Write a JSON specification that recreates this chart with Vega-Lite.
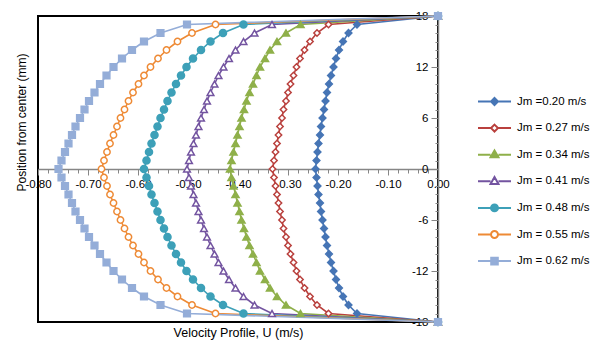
{
  "$schema": "https://vega.github.io/schema/vega-lite/v6.json",
  "width": 400,
  "height": 306,
  "autosize": "none",
  "padding": {"left": 38, "top": 16, "right": 159, "bottom": 21},
  "background": "white",
  "config": {
    "view": {"stroke": "black", "strokeWidth": 2},
    "font": "Liberation Sans",
    "axis": {"grid": false, "domainColor": "#868686", "domainWidth": 1.5, "tickColor": "#868686", "tickWidth": 1, "labelColor": "black", "labelFont": "Liberation Sans", "labelFontSize": 11.5, "titleFont": "Liberation Sans", "titleFontWeight": "normal", "titleColor": "black", "titleFontSize": 12},
    "legend": {"title": null, "orient": "none", "legendX": 439, "legendY": 68, "padding": 0, "rowPadding": 1.6, "labelFont": "Liberation Sans", "labelFontSize": 11.5, "labelColor": "black", "labelOffset": 5, "symbolSize": 1089, "symbolStrokeWidth": 2, "symbolOpacity": 1}
  },
  "data": {"values": [
{"s":"Jm =0.20 m/s","y":18,"u":0},{"s":"Jm =0.20 m/s","y":17,"u":-0.162},{"s":"Jm =0.20 m/s","y":16,"u":-0.179},{"s":"Jm =0.20 m/s","y":15,"u":-0.190},{"s":"Jm =0.20 m/s","y":14,"u":-0.198},{"s":"Jm =0.20 m/s","y":13,"u":-0.204},{"s":"Jm =0.20 m/s","y":12,"u":-0.209},{"s":"Jm =0.20 m/s","y":11,"u":-0.214},{"s":"Jm =0.20 m/s","y":10,"u":-0.218},{"s":"Jm =0.20 m/s","y":9,"u":-0.222},{"s":"Jm =0.20 m/s","y":8,"u":-0.225},{"s":"Jm =0.20 m/s","y":7,"u":-0.228},{"s":"Jm =0.20 m/s","y":6,"u":-0.231},{"s":"Jm =0.20 m/s","y":5,"u":-0.234},{"s":"Jm =0.20 m/s","y":4,"u":-0.236},{"s":"Jm =0.20 m/s","y":3,"u":-0.239},{"s":"Jm =0.20 m/s","y":2,"u":-0.241},{"s":"Jm =0.20 m/s","y":1,"u":-0.243},{"s":"Jm =0.20 m/s","y":0,"u":-0.245},{"s":"Jm =0.20 m/s","y":-1,"u":-0.243},{"s":"Jm =0.20 m/s","y":-2,"u":-0.241},{"s":"Jm =0.20 m/s","y":-3,"u":-0.239},{"s":"Jm =0.20 m/s","y":-4,"u":-0.236},{"s":"Jm =0.20 m/s","y":-5,"u":-0.234},{"s":"Jm =0.20 m/s","y":-6,"u":-0.231},{"s":"Jm =0.20 m/s","y":-7,"u":-0.228},{"s":"Jm =0.20 m/s","y":-8,"u":-0.225},{"s":"Jm =0.20 m/s","y":-9,"u":-0.222},{"s":"Jm =0.20 m/s","y":-10,"u":-0.218},{"s":"Jm =0.20 m/s","y":-11,"u":-0.214},{"s":"Jm =0.20 m/s","y":-12,"u":-0.209},{"s":"Jm =0.20 m/s","y":-13,"u":-0.204},{"s":"Jm =0.20 m/s","y":-14,"u":-0.198},{"s":"Jm =0.20 m/s","y":-15,"u":-0.190},{"s":"Jm =0.20 m/s","y":-16,"u":-0.179},{"s":"Jm =0.20 m/s","y":-17,"u":-0.162},{"s":"Jm =0.20 m/s","y":-18,"u":0},
{"s":"Jm = 0.27 m/s","y":18,"u":0},{"s":"Jm = 0.27 m/s","y":17,"u":-0.219},{"s":"Jm = 0.27 m/s","y":16,"u":-0.242},{"s":"Jm = 0.27 m/s","y":15,"u":-0.256},{"s":"Jm = 0.27 m/s","y":14,"u":-0.267},{"s":"Jm = 0.27 m/s","y":13,"u":-0.276},{"s":"Jm = 0.27 m/s","y":12,"u":-0.283},{"s":"Jm = 0.27 m/s","y":11,"u":-0.289},{"s":"Jm = 0.27 m/s","y":10,"u":-0.295},{"s":"Jm = 0.27 m/s","y":9,"u":-0.300},{"s":"Jm = 0.27 m/s","y":8,"u":-0.304},{"s":"Jm = 0.27 m/s","y":7,"u":-0.309},{"s":"Jm = 0.27 m/s","y":6,"u":-0.312},{"s":"Jm = 0.27 m/s","y":5,"u":-0.316},{"s":"Jm = 0.27 m/s","y":4,"u":-0.319},{"s":"Jm = 0.27 m/s","y":3,"u":-0.322},{"s":"Jm = 0.27 m/s","y":2,"u":-0.325},{"s":"Jm = 0.27 m/s","y":1,"u":-0.328},{"s":"Jm = 0.27 m/s","y":0,"u":-0.331},{"s":"Jm = 0.27 m/s","y":-1,"u":-0.328},{"s":"Jm = 0.27 m/s","y":-2,"u":-0.325},{"s":"Jm = 0.27 m/s","y":-3,"u":-0.322},{"s":"Jm = 0.27 m/s","y":-4,"u":-0.319},{"s":"Jm = 0.27 m/s","y":-5,"u":-0.316},{"s":"Jm = 0.27 m/s","y":-6,"u":-0.312},{"s":"Jm = 0.27 m/s","y":-7,"u":-0.309},{"s":"Jm = 0.27 m/s","y":-8,"u":-0.304},{"s":"Jm = 0.27 m/s","y":-9,"u":-0.300},{"s":"Jm = 0.27 m/s","y":-10,"u":-0.295},{"s":"Jm = 0.27 m/s","y":-11,"u":-0.289},{"s":"Jm = 0.27 m/s","y":-12,"u":-0.283},{"s":"Jm = 0.27 m/s","y":-13,"u":-0.276},{"s":"Jm = 0.27 m/s","y":-14,"u":-0.267},{"s":"Jm = 0.27 m/s","y":-15,"u":-0.256},{"s":"Jm = 0.27 m/s","y":-16,"u":-0.242},{"s":"Jm = 0.27 m/s","y":-17,"u":-0.219},{"s":"Jm = 0.27 m/s","y":-18,"u":0},
{"s":"Jm = 0.34 m/s","y":18,"u":0},{"s":"Jm = 0.34 m/s","y":17,"u":-0.275},{"s":"Jm = 0.34 m/s","y":16,"u":-0.304},{"s":"Jm = 0.34 m/s","y":15,"u":-0.322},{"s":"Jm = 0.34 m/s","y":14,"u":-0.336},{"s":"Jm = 0.34 m/s","y":13,"u":-0.346},{"s":"Jm = 0.34 m/s","y":12,"u":-0.356},{"s":"Jm = 0.34 m/s","y":11,"u":-0.363},{"s":"Jm = 0.34 m/s","y":10,"u":-0.370},{"s":"Jm = 0.34 m/s","y":9,"u":-0.377},{"s":"Jm = 0.34 m/s","y":8,"u":-0.383},{"s":"Jm = 0.34 m/s","y":7,"u":-0.388},{"s":"Jm = 0.34 m/s","y":6,"u":-0.393},{"s":"Jm = 0.34 m/s","y":5,"u":-0.397},{"s":"Jm = 0.34 m/s","y":4,"u":-0.401},{"s":"Jm = 0.34 m/s","y":3,"u":-0.405},{"s":"Jm = 0.34 m/s","y":2,"u":-0.409},{"s":"Jm = 0.34 m/s","y":1,"u":-0.413},{"s":"Jm = 0.34 m/s","y":0,"u":-0.416},{"s":"Jm = 0.34 m/s","y":-1,"u":-0.413},{"s":"Jm = 0.34 m/s","y":-2,"u":-0.409},{"s":"Jm = 0.34 m/s","y":-3,"u":-0.405},{"s":"Jm = 0.34 m/s","y":-4,"u":-0.401},{"s":"Jm = 0.34 m/s","y":-5,"u":-0.397},{"s":"Jm = 0.34 m/s","y":-6,"u":-0.393},{"s":"Jm = 0.34 m/s","y":-7,"u":-0.388},{"s":"Jm = 0.34 m/s","y":-8,"u":-0.383},{"s":"Jm = 0.34 m/s","y":-9,"u":-0.377},{"s":"Jm = 0.34 m/s","y":-10,"u":-0.370},{"s":"Jm = 0.34 m/s","y":-11,"u":-0.363},{"s":"Jm = 0.34 m/s","y":-12,"u":-0.356},{"s":"Jm = 0.34 m/s","y":-13,"u":-0.346},{"s":"Jm = 0.34 m/s","y":-14,"u":-0.336},{"s":"Jm = 0.34 m/s","y":-15,"u":-0.322},{"s":"Jm = 0.34 m/s","y":-16,"u":-0.304},{"s":"Jm = 0.34 m/s","y":-17,"u":-0.275},{"s":"Jm = 0.34 m/s","y":-18,"u":0},
{"s":"Jm = 0.41 m/s","y":18,"u":0},{"s":"Jm = 0.41 m/s","y":17,"u":-0.332},{"s":"Jm = 0.41 m/s","y":16,"u":-0.367},{"s":"Jm = 0.41 m/s","y":15,"u":-0.389},{"s":"Jm = 0.41 m/s","y":14,"u":-0.405},{"s":"Jm = 0.41 m/s","y":13,"u":-0.418},{"s":"Jm = 0.41 m/s","y":12,"u":-0.429},{"s":"Jm = 0.41 m/s","y":11,"u":-0.439},{"s":"Jm = 0.41 m/s","y":10,"u":-0.447},{"s":"Jm = 0.41 m/s","y":9,"u":-0.455},{"s":"Jm = 0.41 m/s","y":8,"u":-0.462},{"s":"Jm = 0.41 m/s","y":7,"u":-0.468},{"s":"Jm = 0.41 m/s","y":6,"u":-0.474},{"s":"Jm = 0.41 m/s","y":5,"u":-0.479},{"s":"Jm = 0.41 m/s","y":4,"u":-0.484},{"s":"Jm = 0.41 m/s","y":3,"u":-0.489},{"s":"Jm = 0.41 m/s","y":2,"u":-0.494},{"s":"Jm = 0.41 m/s","y":1,"u":-0.498},{"s":"Jm = 0.41 m/s","y":0,"u":-0.502},{"s":"Jm = 0.41 m/s","y":-1,"u":-0.498},{"s":"Jm = 0.41 m/s","y":-2,"u":-0.494},{"s":"Jm = 0.41 m/s","y":-3,"u":-0.489},{"s":"Jm = 0.41 m/s","y":-4,"u":-0.484},{"s":"Jm = 0.41 m/s","y":-5,"u":-0.479},{"s":"Jm = 0.41 m/s","y":-6,"u":-0.474},{"s":"Jm = 0.41 m/s","y":-7,"u":-0.468},{"s":"Jm = 0.41 m/s","y":-8,"u":-0.462},{"s":"Jm = 0.41 m/s","y":-9,"u":-0.455},{"s":"Jm = 0.41 m/s","y":-10,"u":-0.447},{"s":"Jm = 0.41 m/s","y":-11,"u":-0.439},{"s":"Jm = 0.41 m/s","y":-12,"u":-0.429},{"s":"Jm = 0.41 m/s","y":-13,"u":-0.418},{"s":"Jm = 0.41 m/s","y":-14,"u":-0.405},{"s":"Jm = 0.41 m/s","y":-15,"u":-0.389},{"s":"Jm = 0.41 m/s","y":-16,"u":-0.367},{"s":"Jm = 0.41 m/s","y":-17,"u":-0.332},{"s":"Jm = 0.41 m/s","y":-18,"u":0},
{"s":"Jm = 0.48 m/s","y":18,"u":0},{"s":"Jm = 0.48 m/s","y":17,"u":-0.389},{"s":"Jm = 0.48 m/s","y":16,"u":-0.430},{"s":"Jm = 0.48 m/s","y":15,"u":-0.455},{"s":"Jm = 0.48 m/s","y":14,"u":-0.474},{"s":"Jm = 0.48 m/s","y":13,"u":-0.490},{"s":"Jm = 0.48 m/s","y":12,"u":-0.503},{"s":"Jm = 0.48 m/s","y":11,"u":-0.514},{"s":"Jm = 0.48 m/s","y":10,"u":-0.524},{"s":"Jm = 0.48 m/s","y":9,"u":-0.533},{"s":"Jm = 0.48 m/s","y":8,"u":-0.541},{"s":"Jm = 0.48 m/s","y":7,"u":-0.548},{"s":"Jm = 0.48 m/s","y":6,"u":-0.555},{"s":"Jm = 0.48 m/s","y":5,"u":-0.561},{"s":"Jm = 0.48 m/s","y":4,"u":-0.567},{"s":"Jm = 0.48 m/s","y":3,"u":-0.573},{"s":"Jm = 0.48 m/s","y":2,"u":-0.578},{"s":"Jm = 0.48 m/s","y":1,"u":-0.583},{"s":"Jm = 0.48 m/s","y":0,"u":-0.588},{"s":"Jm = 0.48 m/s","y":-1,"u":-0.583},{"s":"Jm = 0.48 m/s","y":-2,"u":-0.578},{"s":"Jm = 0.48 m/s","y":-3,"u":-0.573},{"s":"Jm = 0.48 m/s","y":-4,"u":-0.567},{"s":"Jm = 0.48 m/s","y":-5,"u":-0.561},{"s":"Jm = 0.48 m/s","y":-6,"u":-0.555},{"s":"Jm = 0.48 m/s","y":-7,"u":-0.548},{"s":"Jm = 0.48 m/s","y":-8,"u":-0.541},{"s":"Jm = 0.48 m/s","y":-9,"u":-0.533},{"s":"Jm = 0.48 m/s","y":-10,"u":-0.524},{"s":"Jm = 0.48 m/s","y":-11,"u":-0.514},{"s":"Jm = 0.48 m/s","y":-12,"u":-0.503},{"s":"Jm = 0.48 m/s","y":-13,"u":-0.490},{"s":"Jm = 0.48 m/s","y":-14,"u":-0.474},{"s":"Jm = 0.48 m/s","y":-15,"u":-0.455},{"s":"Jm = 0.48 m/s","y":-16,"u":-0.430},{"s":"Jm = 0.48 m/s","y":-17,"u":-0.389},{"s":"Jm = 0.48 m/s","y":-18,"u":0},
{"s":"Jm = 0.55 m/s","y":18,"u":0},{"s":"Jm = 0.55 m/s","y":17,"u":-0.445},{"s":"Jm = 0.55 m/s","y":16,"u":-0.492},{"s":"Jm = 0.55 m/s","y":15,"u":-0.521},{"s":"Jm = 0.55 m/s","y":14,"u":-0.543},{"s":"Jm = 0.55 m/s","y":13,"u":-0.560},{"s":"Jm = 0.55 m/s","y":12,"u":-0.575},{"s":"Jm = 0.55 m/s","y":11,"u":-0.588},{"s":"Jm = 0.55 m/s","y":10,"u":-0.599},{"s":"Jm = 0.55 m/s","y":9,"u":-0.610},{"s":"Jm = 0.55 m/s","y":8,"u":-0.619},{"s":"Jm = 0.55 m/s","y":7,"u":-0.627},{"s":"Jm = 0.55 m/s","y":6,"u":-0.635},{"s":"Jm = 0.55 m/s","y":5,"u":-0.642},{"s":"Jm = 0.55 m/s","y":4,"u":-0.649},{"s":"Jm = 0.55 m/s","y":3,"u":-0.656},{"s":"Jm = 0.55 m/s","y":2,"u":-0.662},{"s":"Jm = 0.55 m/s","y":1,"u":-0.668},{"s":"Jm = 0.55 m/s","y":0,"u":-0.673},{"s":"Jm = 0.55 m/s","y":-1,"u":-0.668},{"s":"Jm = 0.55 m/s","y":-2,"u":-0.662},{"s":"Jm = 0.55 m/s","y":-3,"u":-0.656},{"s":"Jm = 0.55 m/s","y":-4,"u":-0.649},{"s":"Jm = 0.55 m/s","y":-5,"u":-0.642},{"s":"Jm = 0.55 m/s","y":-6,"u":-0.635},{"s":"Jm = 0.55 m/s","y":-7,"u":-0.627},{"s":"Jm = 0.55 m/s","y":-8,"u":-0.619},{"s":"Jm = 0.55 m/s","y":-9,"u":-0.610},{"s":"Jm = 0.55 m/s","y":-10,"u":-0.599},{"s":"Jm = 0.55 m/s","y":-11,"u":-0.588},{"s":"Jm = 0.55 m/s","y":-12,"u":-0.575},{"s":"Jm = 0.55 m/s","y":-13,"u":-0.560},{"s":"Jm = 0.55 m/s","y":-14,"u":-0.543},{"s":"Jm = 0.55 m/s","y":-15,"u":-0.521},{"s":"Jm = 0.55 m/s","y":-16,"u":-0.492},{"s":"Jm = 0.55 m/s","y":-17,"u":-0.445},{"s":"Jm = 0.55 m/s","y":-18,"u":0},
{"s":"Jm = 0.62 m/s","y":18,"u":0},{"s":"Jm = 0.62 m/s","y":17,"u":-0.502},{"s":"Jm = 0.62 m/s","y":16,"u":-0.555},{"s":"Jm = 0.62 m/s","y":15,"u":-0.588},{"s":"Jm = 0.62 m/s","y":14,"u":-0.612},{"s":"Jm = 0.62 m/s","y":13,"u":-0.632},{"s":"Jm = 0.62 m/s","y":12,"u":-0.649},{"s":"Jm = 0.62 m/s","y":11,"u":-0.663},{"s":"Jm = 0.62 m/s","y":10,"u":-0.676},{"s":"Jm = 0.62 m/s","y":9,"u":-0.687},{"s":"Jm = 0.62 m/s","y":8,"u":-0.698},{"s":"Jm = 0.62 m/s","y":7,"u":-0.707},{"s":"Jm = 0.62 m/s","y":6,"u":-0.716},{"s":"Jm = 0.62 m/s","y":5,"u":-0.725},{"s":"Jm = 0.62 m/s","y":4,"u":-0.732},{"s":"Jm = 0.62 m/s","y":3,"u":-0.739},{"s":"Jm = 0.62 m/s","y":2,"u":-0.746},{"s":"Jm = 0.62 m/s","y":1,"u":-0.753},{"s":"Jm = 0.62 m/s","y":0,"u":-0.759},{"s":"Jm = 0.62 m/s","y":-1,"u":-0.753},{"s":"Jm = 0.62 m/s","y":-2,"u":-0.746},{"s":"Jm = 0.62 m/s","y":-3,"u":-0.739},{"s":"Jm = 0.62 m/s","y":-4,"u":-0.732},{"s":"Jm = 0.62 m/s","y":-5,"u":-0.725},{"s":"Jm = 0.62 m/s","y":-6,"u":-0.716},{"s":"Jm = 0.62 m/s","y":-7,"u":-0.707},{"s":"Jm = 0.62 m/s","y":-8,"u":-0.698},{"s":"Jm = 0.62 m/s","y":-9,"u":-0.687},{"s":"Jm = 0.62 m/s","y":-10,"u":-0.676},{"s":"Jm = 0.62 m/s","y":-11,"u":-0.663},{"s":"Jm = 0.62 m/s","y":-12,"u":-0.649},{"s":"Jm = 0.62 m/s","y":-13,"u":-0.632},{"s":"Jm = 0.62 m/s","y":-14,"u":-0.612},{"s":"Jm = 0.62 m/s","y":-15,"u":-0.588},{"s":"Jm = 0.62 m/s","y":-16,"u":-0.555},{"s":"Jm = 0.62 m/s","y":-17,"u":-0.502},{"s":"Jm = 0.62 m/s","y":-18,"u":0}
  ]},
  "encoding": {
    "x": {"field": "u", "type": "quantitative", "scale": {"domain": [-0.8, 0], "nice": false, "zero": false},
      "axis": {"orient": "bottom", "offset": -153, "title": "Velocity Profile, U (m/s)", "titleY": 157, "titleFontSize": 12.5,
        "values": [-0.8,-0.78,-0.76,-0.74,-0.72,-0.7,-0.68,-0.66,-0.64,-0.62,-0.6,-0.58,-0.56,-0.54,-0.52,-0.5,-0.48,-0.46,-0.44,-0.42,-0.4,-0.38,-0.36,-0.34,-0.32,-0.3,-0.28,-0.26,-0.24,-0.22,-0.2,-0.18,-0.16,-0.14,-0.12,-0.1,-0.08,-0.06,-0.04,-0.02,0],
        "labelExpr": "abs(round(datum.value*100)) % 10 == 0 ? replace(format(datum.value, '.2f'), '\u2212', '-') : ''",
        "labelOverlap": false, "labelFlush": false, "labelPadding": 3,
        "tickSize": {"condition": {"test": "abs(round(datum.value*100)) % 10 == 0", "value": 6}, "value": 4}}},
    "y": {"field": "y", "type": "quantitative", "scale": {"domain": [-18, 18], "nice": false},
      "axis": {"orient": "left", "offset": -400, "title": "Position from center (mm)", "titleX": -410, "titleY": 106, "titleAngle": -90,
        "values": [-18,-17,-16,-15,-14,-13,-12,-11,-10,-9,-8,-7,-6,-5,-4,-3,-2,-1,0,1,2,3,4,5,6,7,8,9,10,11,12,13,14,15,16,17,18],
        "labelExpr": "datum.value % 6 == 0 ? replace(format(datum.value, 'd'), '\u2212', '-') : ''",
        "labelOverlap": false, "labelFlush": false, "labelPadding": 3,
        "tickSize": {"condition": {"test": "datum.value % 6 == 0", "value": 7}, "value": 3}}},
    "color": {"field": "s", "type": "nominal",
      "scale": {"domain": ["Jm =0.20 m/s","Jm = 0.27 m/s","Jm = 0.34 m/s","Jm = 0.41 m/s","Jm = 0.48 m/s","Jm = 0.55 m/s","Jm = 0.62 m/s"],
        "range": ["#4675B5","#B9403D","#8FB04A","#7354A0","#3DA0B8","#EE8A35","#94ADD8"]}}
  },
  "layer": [
    {
      "mark": {"type": "line", "strokeWidth": 1.6},
      "encoding": {"order": {"field": "y", "type": "quantitative"}}
    },
    {
      "transform": [{"filter": {"field": "s", "equal": "Jm =0.20 m/s"}}],
      "mark": {"type": "point", "shape": "diamond", "filled": false, "size": 45, "strokeWidth": 1.5, "opacity": 1},
      "encoding": {"fill": {"field": "s", "type": "nominal"}}
    },
    {
      "transform": [{"filter": {"field": "s", "equal": "Jm = 0.27 m/s"}}],
      "mark": {"type": "point", "shape": "diamond", "filled": false, "size": 40, "strokeWidth": 1.5, "opacity": 1},
      "encoding": {"fill": {"field": "s", "type": "nominal"}}
    },
    {
      "transform": [{"filter": {"field": "s", "equal": "Jm = 0.34 m/s"}}],
      "mark": {"type": "point", "shape": "triangle-up", "filled": false, "size": 50, "strokeWidth": 1.5, "opacity": 1},
      "encoding": {"fill": {"field": "s", "type": "nominal"}}
    },
    {
      "transform": [{"filter": {"field": "s", "equal": "Jm = 0.41 m/s"}}],
      "mark": {"type": "point", "shape": "triangle-up", "filled": false, "size": 45, "strokeWidth": 1.5, "opacity": 1},
      "encoding": {"fill": {"field": "s", "type": "nominal"}}
    },
    {
      "transform": [{"filter": {"field": "s", "equal": "Jm = 0.48 m/s"}}],
      "mark": {"type": "point", "shape": "circle", "filled": false, "size": 50, "strokeWidth": 1.5, "opacity": 1},
      "encoding": {"fill": {"field": "s", "type": "nominal"}}
    },
    {
      "transform": [{"filter": {"field": "s", "equal": "Jm = 0.55 m/s"}}],
      "mark": {"type": "point", "shape": "circle", "filled": false, "size": 40, "strokeWidth": 1.5, "opacity": 1},
      "encoding": {"fill": {"field": "s", "type": "nominal"}}
    },
    {
      "transform": [{"filter": {"field": "s", "equal": "Jm = 0.62 m/s"}}],
      "mark": {"type": "point", "shape": "square", "filled": false, "size": 45, "strokeWidth": 1.5, "opacity": 1},
      "encoding": {"fill": {"field": "s", "type": "nominal"}}
    },
    {
      "transform": [{"filter": "false"}],
      "mark": {"type": "point", "filled": false, "size": 1089, "strokeWidth": 2, "opacity": 1},
      "encoding": {
        "fill": {"field": "s", "type": "nominal",
          "scale": {"domain": ["Jm =0.20 m/s","Jm = 0.27 m/s","Jm = 0.34 m/s","Jm = 0.41 m/s","Jm = 0.48 m/s","Jm = 0.55 m/s","Jm = 0.62 m/s"],
            "range": ["#4675B5","#ffffff","#8FB04A","#ffffff","#3DA0B8","#ffffff","#94ADD8"]}},
        "shape": {"field": "s", "type": "nominal",
          "scale": {"domain": ["Jm =0.20 m/s","Jm = 0.27 m/s","Jm = 0.34 m/s","Jm = 0.41 m/s","Jm = 0.48 m/s","Jm = 0.55 m/s","Jm = 0.62 m/s"],
            "range": ["M-1,0H-0.21M0.21,0H1M0,-0.21L0.21,0L0,0.21L-0.21,0Z","M-1,0H-0.21M0.21,0H1M0,-0.21L0.21,0L0,0.21L-0.21,0Z","M-1,0H-0.24M0.24,0H1M0,-0.26L0.24,0.16L-0.24,0.16Z","M-1,0H-0.24M0.24,0H1M0,-0.26L0.24,0.16L-0.24,0.16Z","M-1,0H-0.21M0.21,0H1M-0.21,0A0.21,0.21,0,1,1,0.21,0A0.21,0.21,0,1,1,-0.21,0Z","M-1,0H-0.21M0.21,0H1M-0.21,0A0.21,0.21,0,1,1,0.21,0A0.21,0.21,0,1,1,-0.21,0Z","M-1,0H-0.2M0.2,0H1M-0.2,-0.2H0.2V0.2H-0.2Z"]}}
      }
    }
  ]
}
